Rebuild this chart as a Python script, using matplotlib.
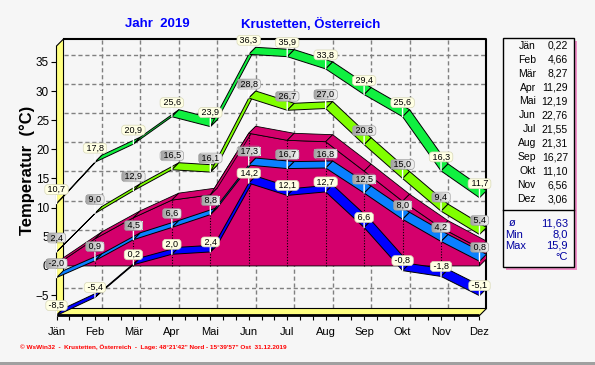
import matplotlib
matplotlib.use('Agg')
import matplotlib.pyplot as plt
from matplotlib.patches import Polygon, Rectangle
from matplotlib.colors import LinearSegmentedColormap
import numpy as np

plt.rcParams['font.family'] = ['Liberation Sans', 'DejaVu Sans']

# data
months = ['Jän', 'Feb', 'Mär', 'Apr', 'Mai', 'Jun', 'Jul', 'Aug', 'Sep', 'Okt', 'Nov', 'Dez']
t_max = [10.7, 17.8, 20.9, 25.6, 23.9, 36.3, 35.9, 33.8, 29.4, 25.6, 16.3, 11.7]
t_avgmax = [2.4, 9.0, 12.9, 16.5, 16.1, 28.8, 26.7, 27.0, 20.8, 15.0, 9.4, 5.4]
t_mean = [0.22, 4.66, 8.27, 11.29, 12.19, 22.76, 21.55, 21.31, 16.27, 11.10, 6.56, 3.06]
t_avgmin = [-2.0, 0.9, 4.5, 6.6, 8.8, 17.3, 16.7, 16.8, 12.5, 8.0, 4.2, 0.8]
t_min = [-8.5, -5.4, 0.2, 2.0, 2.4, 14.2, 12.1, 12.7, 6.6, -0.8, -1.8, -5.1]
summary_labels = ['ø', 'Min', 'Max']
summary_values = ['11,63', '8,0', '15,9']

col_max = '#10f040'
col_avgmax = '#80ff00'
col_mean = '#d4006c'
col_avgmin = '#0a80ff'
col_min = '#0000ff'
bg = '#f6f6f6'

W, H = 595, 365
PX = 38.4      # px per month
PY = 5.83      # px per degree
DX = 7 / PX    # depth offset (data units)
DY = 7 / PY
YMIN = -8.5
YTOP = YMIN + 276.5 / PY
N = len(months)

def fx(p):
    return p / W

def fy(p):
    return 1 - p / H

def fmt(v, d=1):
    return ('%.*f' % (d, v)).replace('.', ',')

fig = plt.figure(figsize=(W / 100, H / 100), dpi=100, facecolor=bg)
ax = fig.add_axes([fx(56.5), fy(315.5), 430 / W, 276.5 / H])
ax.set_facecolor('none')
for s in ax.spines.values():
    s.set_visible(False)

# back wall grid
for v in range(-5, 40, 5):
    ax.plot([DX, N - 1 + DX], [v + DY, v + DY], color='#808080', ls=(0, (3, 2)), lw=1, zorder=1)
for i in range(1, N - 1):
    ax.plot([i + DX, i + DX], [YMIN + DY, YTOP], color='#808080', ls=(0, (3, 2)), lw=1, zorder=1)
ax.plot([DX, N - 1 + DX, N - 1 + DX], [YTOP, YTOP, YMIN + DY], color='black', lw=1.5, zorder=1.5, clip_on=False)

# left wall and floor
ax.add_patch(Polygon([(0, YMIN), (0, YTOP - DY), (DX, YTOP), (DX, YMIN + DY)],
                     fc='#ffff80', ec='black', lw=0.8, zorder=2, clip_on=False))
ax.add_patch(Polygon([(0, YMIN), (N - 1, YMIN), (N - 1 + DX, YMIN + DY), (DX, YMIN + DY)],
                     fc='#ffff80', ec='black', lw=0.8, zorder=2, clip_on=False))
ax.plot([0, N - 1], [YMIN, YMIN], color='black', lw=2, zorder=2.1, clip_on=False, solid_capstyle='butt')

# mean as 3d area
x = np.arange(N)
front = [(0, 0)] + [(i, t_mean[i]) for i in range(N)] + [(N - 1, 0)]
ax.add_patch(Polygon(front, fc=col_mean, ec='black', lw=0.6, zorder=3))
for i in range(N - 1):
    ax.add_patch(Polygon([(i, t_mean[i]), (i + 1, t_mean[i + 1]), (i + 1 + DX, t_mean[i + 1] + DY),
                          (i + DX, t_mean[i] + DY)], fc=col_mean, ec='black', lw=0.6, zorder=3))
ax.add_patch(Polygon([(N - 1, 0), (N - 1, t_mean[-1]), (N - 1 + DX, t_mean[-1] + DY), (N - 1 + DX, DY)],
                     fc=col_mean, ec='black', lw=0.6, zorder=3, clip_on=False))
for i in range(1, N - 1):
    ax.plot([i, i], [0, t_mean[i]], color='black', ls=(0, (1, 1.5)), lw=0.8, zorder=3.2)

# ribbons
def ribbon(vals, color, z):
    for i in range(N - 1):
        ax.add_patch(Polygon([(i, vals[i]), (i + 1, vals[i + 1]), (i + 1 + DX, vals[i + 1] + DY),
                              (i + DX, vals[i] + DY)], fc=color, ec='black', lw=0.7, zorder=z,
                             clip_on=False))

ribbon(t_min, col_min, 4)
ribbon(t_avgmin, col_avgmin, 4.1)
ribbon(t_avgmax, col_avgmax, 4.2)
ribbon(t_max, col_max, 4.3)

# value labels
gray_anns = []
def labels(vals, fc, ec, off_px, gray=False):
    for i, v in enumerate(vals):
        a = ax.annotate(' ' + fmt(v) + ' ', xy=(i, v), xytext=(0, off_px * 0.72), textcoords='offset points',
                        ha='center', va='center', fontsize=6.5,
                        bbox=dict(boxstyle='round,pad=0.05,rounding_size=0.35', fc=fc, ec=ec, lw=0.5),
                        arrowprops=dict(arrowstyle='-', color='white', lw=1, shrinkA=0, shrinkB=0),
                        zorder=10, annotation_clip=False)
        if gray:
            gray_anns.append(a)

labels(t_min, '#ffffe4', '#d8d8b8', 10)
labels(t_avgmin, 'none', '#a0a0a0', 14, gray=True)
labels(t_avgmax, 'none', '#a0a0a0', 14, gray=True)
labels(t_max, '#ffffe4', '#d8d8b8', 14)

# axes ticks
ax.set_yticks(range(-5, 40, 5))
ax.set_xticks(x)
ax.set_xticklabels(months)
ax.set_xticks(np.arange(0, N - 1 + 0.01, 1 / 3), minor=True)
ax.tick_params(axis='y', length=4.3, width=0.8, pad=1, labelsize=8.5)
ax.tick_params(axis='x', which='both', length=3, width=0.8, pad=5, labelsize=8)
ax.set_xlim(0, N - 1 + DX)
ax.set_ylim(YMIN, YTOP)

# gradient fill behind the gray labels
fig.canvas.draw()
grad_cmap = LinearSegmentedColormap.from_list('g', ['#a4a4a4', '#f2f2f2'])
grad = np.linspace(0, 1, 32).reshape(1, -1)
inv = ax.transData.inverted()
for a in gray_anns:
    bb = a.get_bbox_patch().get_window_extent()
    (x0, y0), (x1, y1) = inv.transform([(bb.x0 + 0.5, bb.y0 + 0.5), (bb.x1 - 0.5, bb.y1 - 0.5)])
    ax.imshow(grad, extent=[x0, x1, y0, y1], aspect='auto', cmap=grad_cmap, zorder=9.5,
              clip_on=False, interpolation='bilinear')
ax.set_xlim(0, N - 1 + DX)
ax.set_ylim(YMIN, YTOP)

fig.text(fx(27), fy(170), 'Temperatur  (°C)', rotation=90, fontsize=12, fontweight='bold',
         ha='center', va='center')
fig.text(fx(157), fy(24), 'Jahr  2019', color='#0000ff', fontsize=9.5, fontweight='bold',
         ha='center', va='center')
fig.text(fx(310.5), fy(24), 'Krustetten, Österreich', color='#0000ff', fontsize=9.5, fontweight='bold',
         ha='center', va='center')
fig.text(fx(20), fy(347), '© WsWin32  -  Krustetten, Österreich  -  Lage: 48°21\'42" Nord - 15°39\'57" Ost  31.12.2019',
         color='red', fontsize=4.6, fontweight='bold', ha='left', va='center')

# right info box
fig.patches.append(Rectangle((fx(505.5), fy(269.5)), 71 / W, 229 / H, transform=fig.transFigure,
                             fc='#f090c8', ec='none', zorder=0))
fig.patches.append(Rectangle((fx(502.5), fy(266.5)), 71 / W, 229 / H, transform=fig.transFigure,
                             fc='#f8f8f8', ec='black', lw=1, zorder=1))
fig.lines.append(plt.Line2D([fx(502.5), fx(573.5)], [fy(210), fy(210)], transform=fig.transFigure,
                            color='black', lw=1))
for i, m in enumerate(months):
    yy = fy(45.7 + i * 13.94)
    fig.text(fx(536), yy, m, fontsize=7.5, ha='right', va='center')
    fig.text(fx(568), yy, fmt(t_mean[i], 2), fontsize=7.5, ha='right', va='center')
for i, (lab, val) in enumerate(zip(summary_labels, summary_values)):
    yy = fy(223 + i * 11.5)
    if lab == 'ø':
        fig.text(fx(512), yy, lab, fontsize=8, color='#0000a0', ha='center', va='center')
    else:
        fig.text(fx(505.5), yy, lab, fontsize=8, color='#0000a0', ha='left', va='center')
    fig.text(fx(568), yy, val, fontsize=8, color='#0000a0', ha='right', va='center')
fig.text(fx(568), fy(257.5), '°C', fontsize=8, color='#0000a0', ha='right', va='center')

# bottom border
fig.patches.append(Rectangle((0, 0), 1, 3 / H, transform=fig.transFigure, fc='#a0a0a0', ec='none'))

plt.savefig('out.png', dpi=100, facecolor=bg)
plt.close()
